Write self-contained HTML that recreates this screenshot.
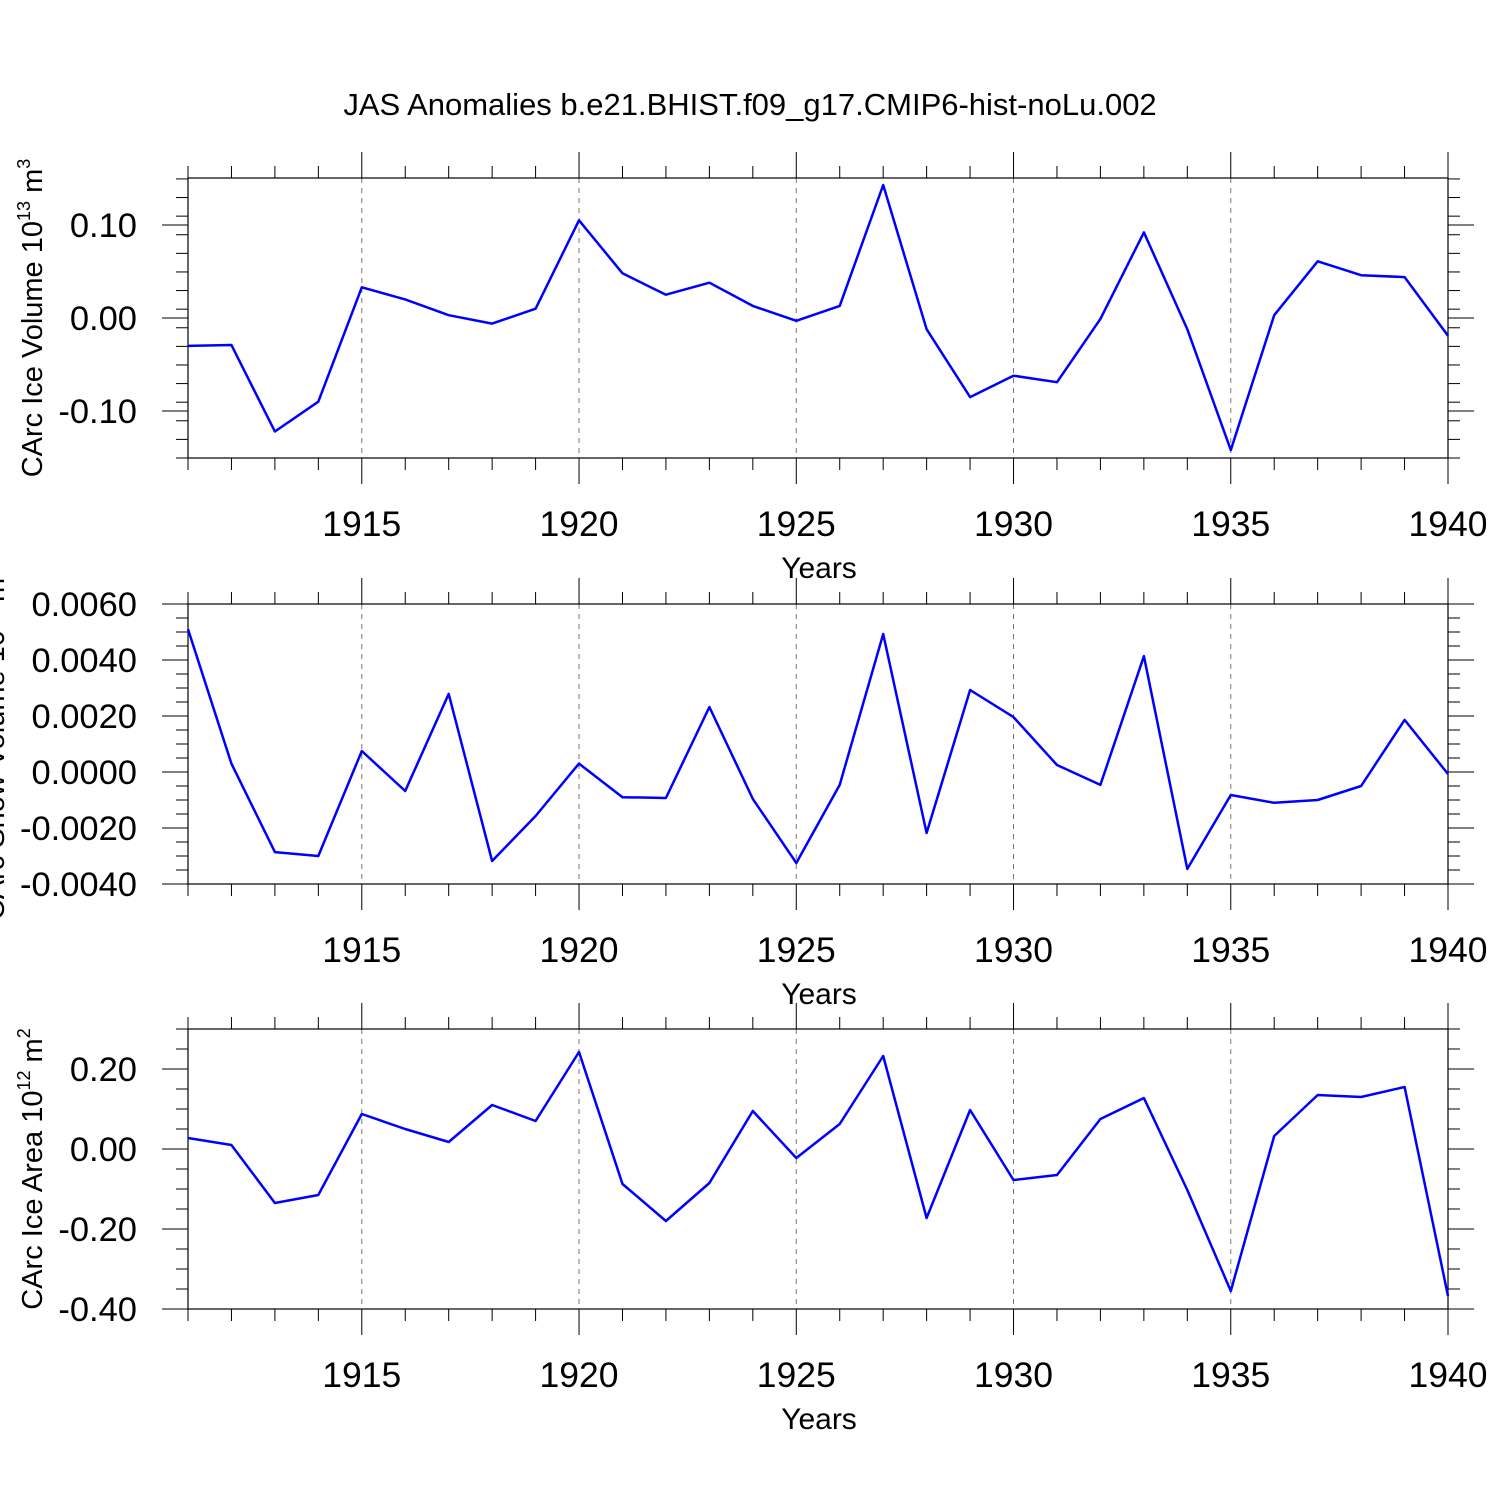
<!DOCTYPE html>
<html><head><meta charset="utf-8"><style>
html,body{margin:0;padding:0;background:#fff;}
svg{display:block;font-family:"Liberation Sans",sans-serif;}
</style></head><body>
<svg id="chart" width="1500" height="1500" viewBox="0 0 1500 1500" xmlns="http://www.w3.org/2000/svg">
<text x="750" y="115" font-size="31" text-anchor="middle">JAS Anomalies b.e21.BHIST.f09_g17.CMIP6-hist-noLu.002</text>
</svg>
<script>
const years = [1911,1912,1913,1914,1915,1916,1917,1918,1919,1920,1921,1922,1923,1924,1925,1926,1927,1928,1929,1930,1931,1932,1933,1934,1935,1936,1937,1938,1939,1940];
const iceVolume = [-0.030,-0.029,-0.122,-0.090,0.033,0.020,0.003,-0.006,0.010,0.105,0.048,0.025,0.038,0.013,-0.003,0.013,0.143,-0.012,-0.085,-0.062,-0.069,-0.001,0.092,-0.012,-0.142,0.003,0.061,0.046,0.044,-0.019];
const snowVolume = [0.0051,0.0003,-0.00286,-0.0030,0.00075,-0.00068,0.00279,-0.00318,-0.00157,0.0003,-0.0009,-0.00093,0.00232,-0.00096,-0.00325,-0.00046,0.00493,-0.00218,0.00293,0.00196,0.00025,-0.00046,0.00414,-0.00346,-0.00082,-0.0011,-0.0010,-0.0005,0.00186,-0.00007];
const iceArea = [0.0275,0.010,-0.135,-0.115,0.0875,0.050,0.0175,0.110,0.070,0.2425,-0.0875,-0.180,-0.085,0.095,-0.0225,0.0625,0.2325,-0.1725,0.0975,-0.0775,-0.065,0.075,0.1275,-0.1025,-0.355,0.0325,0.135,0.130,0.155,-0.3675];
const xTicks = [1915,1920,1925,1930,1935,1940];
const volTicks = [-0.10,0.00,0.10];
const snowTicks = [-0.004,-0.002,0,0.002,0.004,0.006];
const areaTicks = [-0.40,-0.20,0.00,0.20];

const NS="http://www.w3.org/2000/svg";
const svg=document.getElementById('chart');
const X0=188,X1=1448;
function xs(y){return X0+(y-1911)/(1940-1911)*(X1-X0);}
function mk(tag,attrs,parent){const e=document.createElementNS(NS,tag);for(const k in attrs)e.setAttribute(k,attrs[k]);(parent||svg).appendChild(e);return e;}

function panel(name,top,vmin,vmax,data,ticks,minorStep,fmt,labelMain,labelExp,labelX){
  const bot=top+280;
  const ys=v=>bot-(v-vmin)/(vmax-vmin)*280;
  const g=mk('g',{});
  
  
  xTicks.forEach(t=>{ if(t<1940){const l=mk('line',{x1:xs(t),x2:xs(t),y1:top,y2:bot,stroke:'#777','stroke-width':1,'stroke-dasharray':'5,5'},g);
    
    }});
  const fr=mk('rect',{x:X0,y:top,width:X1-X0,height:280,fill:'none',stroke:'#000','stroke-width':1.2},g);
  
  
  years.forEach(yr=>{
    const major=xTicks.includes(yr);const L=major?26:12;
    mk('line',{x1:xs(yr),x2:xs(yr),y1:top-L,y2:top,stroke:'#000','stroke-width':1},g);
    mk('line',{x1:xs(yr),x2:xs(yr),y1:bot,y2:bot+L,stroke:'#000','stroke-width':1},g);
  });
  xTicks.forEach(t=>{
    const tx=mk('text',{x:xs(t),y:bot+78,'font-size':35.5,'text-anchor':'middle'},g);tx.textContent=t;
    
    
  });
  const xt=mk('text',{x:819,y:bot+120,'font-size':30,'text-anchor':'middle'},g);xt.textContent='Years';
  
  
  const n=Math.round((vmax-vmin)/minorStep);
  for(let i=0;i<=n;i++){const v=vmin+i*minorStep;const yy=ys(v);
    mk('line',{x1:X0-12,x2:X0,y1:yy,y2:yy,stroke:'#000','stroke-width':1},g);
    mk('line',{x1:X1,x2:X1+12,y1:yy,y2:yy,stroke:'#000','stroke-width':1},g);}
  ticks.forEach(v=>{const yy=ys(v);
    mk('line',{x1:X0-26,x2:X0,y1:yy,y2:yy,stroke:'#000','stroke-width':1},g);
    mk('line',{x1:X1,x2:X1+26,y1:yy,y2:yy,stroke:'#000','stroke-width':1},g);
    const tx=mk('text',{x:X0-51,y:yy+12,'font-size':34.5,'text-anchor':'end'},g);tx.textContent=fmt(v);
    
    
  });
  const yt=mk('text',{transform:`translate(${labelX},${top+140}) rotate(-90)`,'font-size':29,'text-anchor':'middle'},g);
  
  
  yt.appendChild(document.createTextNode(labelMain+' 10'));
  const s1=mk('tspan',{dy:-12,'font-size':18},yt);s1.textContent=labelExp;
  const s2=mk('tspan',{dy:12},yt);s2.textContent=' m';
  const s3=mk('tspan',{dy:-12,'font-size':18},yt);s3.textContent=(labelMain.includes('Area')?'2':'3');
  const pts=data.map((v,i)=>xs(years[i]).toFixed(1)+','+ys(v).toFixed(1)).join(' ');
  const pl=mk('polyline',{points:pts,fill:'none',stroke:'#0000ff','stroke-width':2.5,'stroke-linejoin':'round'},g);
  
  
}
const f2=v=>{const s=Math.abs(v).toFixed(2);return (v<-1e-9?'-':'')+s;};
const f4=v=>{const s=Math.abs(v).toFixed(4);return (v<-1e-9?'-':'')+s;};
panel('ice-volume',178,-0.1505,0.1505,iceVolume,volTicks,0.02,f2,'CArc Ice Volume','13',42);
panel('snow-volume',604,-0.004,0.006,snowVolume,snowTicks,0.0005,f4,'CArc Snow Volume','13',4);
panel('ice-area',1029,-0.4,0.3,iceArea,areaTicks,0.05,f2,'CArc Ice Area','12',42);
</script>
</body></html>
